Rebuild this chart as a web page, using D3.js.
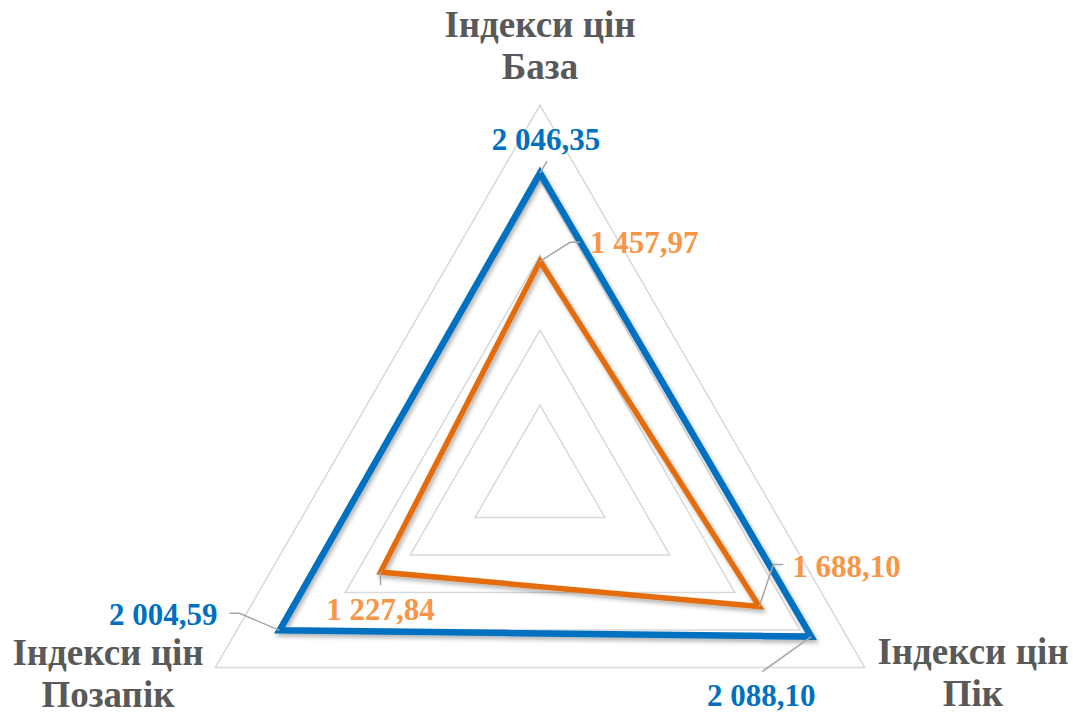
<!DOCTYPE html>
<html>
<head>
<meta charset="utf-8">
<script src="https://cdn.jsdelivr.net/npm/d3@7"></script>
<style>
  body { margin: 0; background: #fff; }
  text { font-family: "Liberation Serif", "Times New Roman", serif; font-weight: bold; }
</style>
</head>
<body>
<div id="chart"></div>
<script>
// data
var axes = ["База", "Пік", "Позапік"];
var seriesBlue = [2046.35, 2088.10, 2004.59];
var seriesOrange = [1457.97, 1688.10, 1227.84];
var gridTicks = [500, 1000, 1500, 2000, 2500];

var width = 1073, height = 714,
    cx = 540, cy = 480, radius = 375;

var svg = d3.select("#chart")
  .append("svg")
    .attr("width", width)
    .attr("height", height);

var defs = svg.append("defs");
var f = defs.append("filter").attr("id", "shadow")
  .attr("x", "-10%").attr("y", "-10%").attr("width", "130%").attr("height", "130%");
f.append("feDropShadow")
  .attr("dx", 2).attr("dy", 3).attr("stdDeviation", 2)
  .attr("flood-color", "#000").attr("flood-opacity", 0.3);

var r = d3.scaleLinear().domain([0, 2500]).range([0, radius]);

function angle(i) { return -Math.PI / 2 + i * 2 * Math.PI / axes.length; }
function pt(v, i) { return [cx + r(v) * Math.cos(angle(i)), cy + r(v) * Math.sin(angle(i))]; }

var line = d3.line().curve(d3.curveLinearClosed);

// grid triangles
svg.append("g")
  .selectAll("path")
  .data(gridTicks)
  .join("path")
    .attr("d", function (t) { return line(axes.map(function (a, i) { return pt(t, i); })); })
    .attr("fill", "none")
    .attr("stroke", "#d9d9d9")
    .attr("stroke-width", 1.5);

// axis labels
var axisLabelPos = [[540, 37], [973, 664], [108, 665]];
svg.append("g")
  .selectAll("text")
  .data(axes)
  .join("text")
    .attr("text-anchor", "middle")
    .attr("fill", "#595959")
    .attr("font-size", 37)
    .attr("x", function (d, i) { return axisLabelPos[i][0]; })
    .attr("y", function (d, i) { return axisLabelPos[i][1]; })
    .call(function (t) {
      t.append("tspan").attr("x", function (d, i) { return axisLabelPos[i][0]; }).text("Індекси цін");
      t.append("tspan").attr("x", function (d, i) { return axisLabelPos[i][0]; }).attr("dy", 42).text(function (d) { return d; });
    });

var series = [
  { values: seriesBlue, stroke: "#0070c0", label: "#0070c0", width: 6.5,
    text: [[6, -23, "middle"], [-50, 69, "middle"], [-62, -5, "end"]],
    lead: [[[7, -12]], [[-49, 35]], [[-40, -17], [-50, -17]]] },
  { values: seriesOrange, stroke: "#e46c0a", label: "#f79646", width: 5.5,
    text: [[50, -8, "start"], [33, -30, "start"], [0, 48, "middle"]],
    lead: [[[30, -19], [40, -19]], [[14, -42], [24, -42]], [[0, 13]]] }
];

var fmt = d3.formatLocale({ decimal: ",", thousands: " ", grouping: [3], currency: ["", ""] }).format(",.2f");

// series polygons
svg.append("g")
  .selectAll("path")
  .data(series)
  .join("path")
    .attr("d", function (s) { return line(s.values.map(pt)); })
    .attr("fill", "none")
    .attr("stroke", function (s) { return s.stroke; })
    .attr("stroke-width", function (s) { return s.width; })
    .attr("stroke-linejoin", "miter")
    .attr("filter", "url(#shadow)");

// leader lines and data labels
series.forEach(function (s) {
  var g = svg.append("g");
  s.values.forEach(function (v, i) {
    var p = pt(v, i);
    var pts = [p].concat(s.lead[i].map(function (o) { return [p[0] + o[0], p[1] + o[1]]; }));
    g.append("path")
      .attr("d", d3.line()(pts))
      .attr("fill", "none")
      .attr("stroke", "#a6a6a6")
      .attr("stroke-width", 1.5);
    g.append("text")
      .attr("x", p[0] + s.text[i][0])
      .attr("y", p[1] + s.text[i][1])
      .attr("text-anchor", s.text[i][2])
      .attr("fill", s.label)
      .attr("font-size", 31)
      .text(fmt(v));
  });
});
</script>
</body>
</html>
